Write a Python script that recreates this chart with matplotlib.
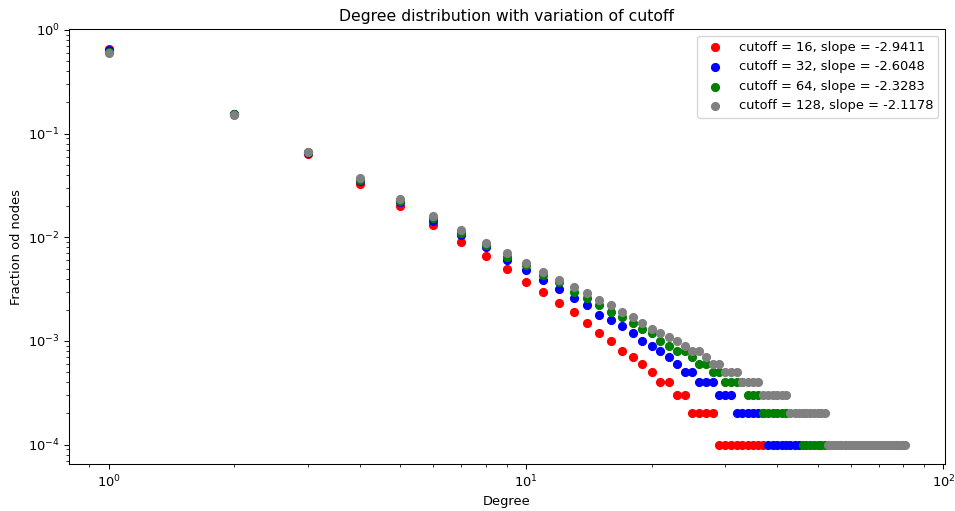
import matplotlib
matplotlib.use('Agg')
import matplotlib.pyplot as plt

# degree values and fraction of nodes for each cutoff
deg_16 = list(range(1, 38))
frac_16 = [0.655, 0.155, 0.064, 0.033, 0.0202, 0.0132, 0.0091, 0.0066, 0.0049, 0.0037,
           0.0030, 0.0023, 0.0019, 0.0015, 0.0012, 0.0010, 0.0008, 0.0007, 0.0006, 0.0005,
           0.0004, 0.0004, 0.0003, 0.0003, 0.0002, 0.0002, 0.0002, 0.0002,
           0.0001, 0.0001, 0.0001, 0.0001, 0.0001, 0.0001, 0.0001, 0.0001, 0.0001]

deg_32 = list(range(1, 46))
frac_32 = [0.635, 0.154, 0.065, 0.035, 0.0217, 0.0145, 0.0106, 0.0080, 0.0060, 0.0048,
           0.0039, 0.0032, 0.0026, 0.0022, 0.0018, 0.0016, 0.0014, 0.0012, 0.0010, 0.0009,
           0.0008, 0.0007, 0.0006, 0.0005, 0.0005, 0.0004, 0.0004, 0.0004,
           0.0003, 0.0003, 0.0003, 0.0002, 0.0002, 0.0002, 0.0002, 0.0002, 0.0002,
           0.0001, 0.0001, 0.0001, 0.0001, 0.0001, 0.0001, 0.0001, 0.0001]

deg_64 = list(range(1, 43)) + list(range(46, 54))
frac_64 = [0.615, 0.153, 0.066, 0.036, 0.0225, 0.0155, 0.0110, 0.0085, 0.0065, 0.0054,
           0.0043, 0.0037, 0.0030, 0.0026, 0.0022, 0.0019, 0.0017, 0.0015, 0.0013, 0.0012,
           0.0010, 0.0009, 0.0008, 0.0008, 0.0007, 0.0006, 0.0006, 0.0005, 0.0005,
           0.0004, 0.0004, 0.0004, 0.0004, 0.0003, 0.0003, 0.0003,
           0.0002, 0.0002, 0.0002, 0.0002, 0.0002, 0.0002,
           0.0001, 0.0001, 0.0001, 0.0001, 0.0001, 0.0001, 0.0001, 0.0001]

deg_128 = list(range(1, 82))
frac_128 = [0.600, 0.152, 0.067, 0.037, 0.0235, 0.0162, 0.0117, 0.0089, 0.0070, 0.0057,
            0.0046, 0.0039, 0.0033, 0.0029, 0.0025, 0.0022, 0.0019, 0.0017, 0.0015, 0.0013,
            0.0012, 0.0011, 0.0010, 0.0009, 0.0008, 0.0008, 0.0007, 0.0006, 0.0006,
            0.0005, 0.0005, 0.0005, 0.0004, 0.0004, 0.0004, 0.0004,
            0.0003, 0.0003, 0.0003, 0.0003, 0.0003, 0.0003,
            0.0002, 0.0002, 0.0002, 0.0002, 0.0002, 0.0002, 0.0002, 0.0002, 0.0002, 0.0002] + [0.0001] * 29

labels = ['cutoff = 16, slope = -2.9411', 'cutoff = 32, slope = -2.6048',
          'cutoff = 64, slope = -2.3283', 'cutoff = 128, slope = -2.1178']
colors = ['red', 'blue', 'green', 'grey']

dpi = 94
fig, ax = plt.subplots(figsize=(955 / dpi, 511 / dpi), dpi=dpi)
series = [(deg_16, frac_16), (deg_32, frac_32), (deg_64, frac_64), (deg_128, frac_128)]
for (d, f), c, lab in zip(series, colors, labels):
    ax.scatter(d, f, c=c, s=36, label=lab)

ax.set_xscale('log')
ax.set_yscale('log')
ax.set_title('Degree distribution with variation of cutoff')
ax.set_xlabel('Degree')
ax.set_ylabel('Fraction od nodes')
ax.legend(loc='upper right')
fig.subplots_adjust(left=0.072, right=0.9895, bottom=0.091, top=0.943)
fig.savefig('out.png', dpi=dpi)
